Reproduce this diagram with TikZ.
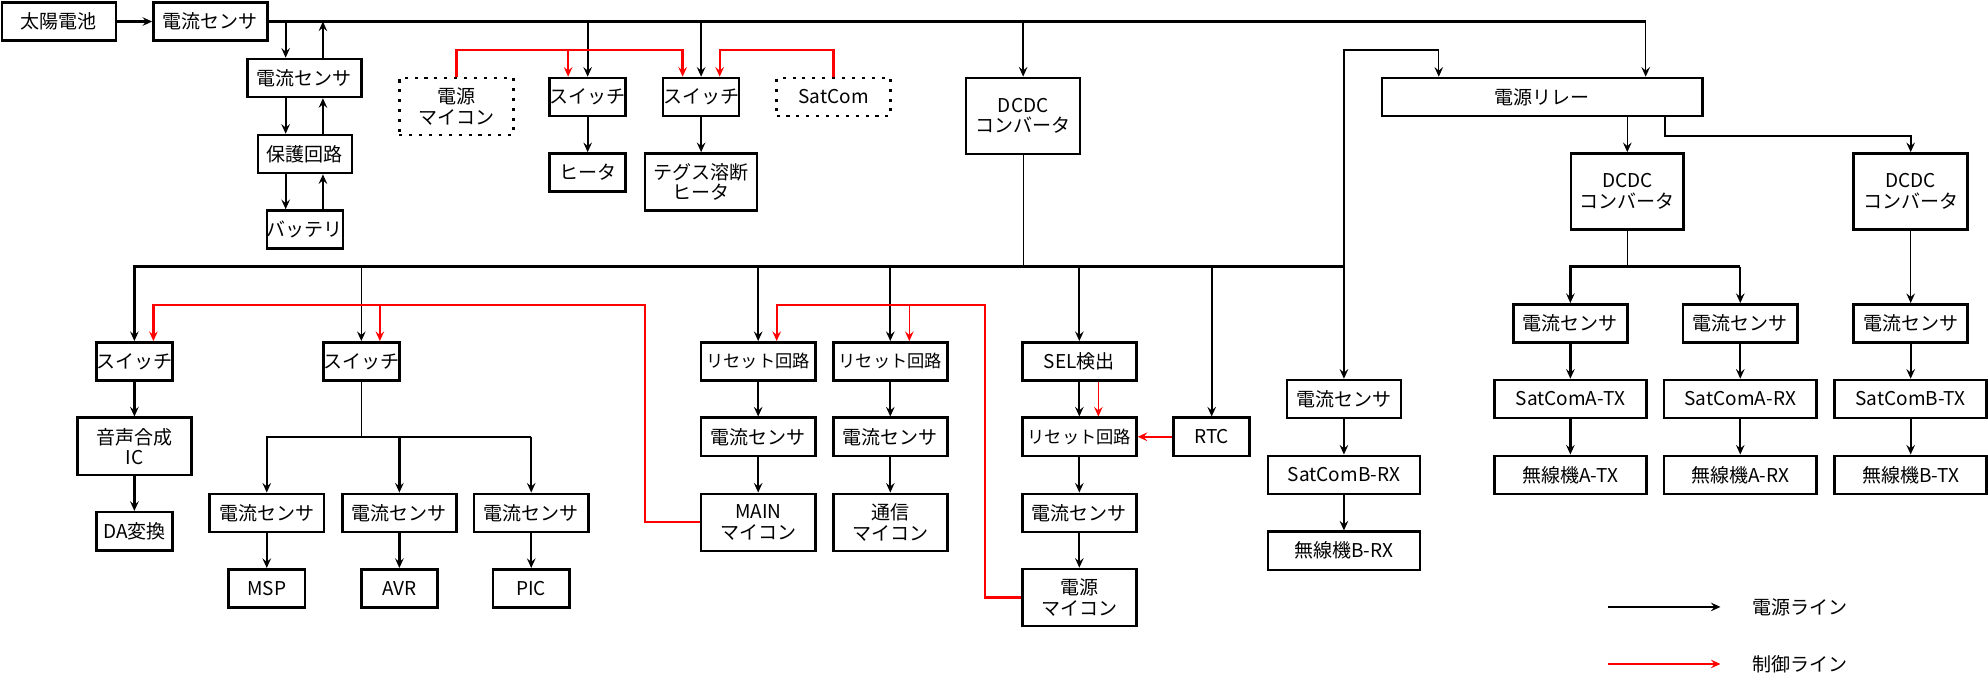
\documentclass[tikz,border=0pt]{standalone}
\usepackage{fontspec}
\setmainfont{Noto Sans CJK JP}
\usetikzlibrary{arrows.meta}

\begin{document}
\begin{tikzpicture}[x=0.5pt,y=-0.5pt,>={Stealth[length=3.8pt,width=3.4pt,inset=1.4pt]}]
    \tikzstyle{blk}=[draw,line width=1pt,inner sep=0pt,align=center,minimum width=45pt,minimum height=15pt,font=\fontsize{7.5}{8}\selectfont]
    \tikzstyle{sblk}=[blk,minimum width=30pt]
    \tikzstyle{wblk}=[blk,minimum width=60pt]
    \tikzstyle{tblk}=[blk,minimum height=22.5pt]
    \tikzstyle{dcblk}=[blk,minimum height=30pt]
    \tikzstyle{rstblk}=[blk,font=\fontsize{6.8}{8}\selectfont]
    \tikzstyle{dotbox}=[dash pattern=on 1.2pt off 2.7pt]
    \tikzstyle{pw}=[->,line width=0.9pt]
    \tikzstyle{pwthin}=[->,line width=0.45pt]
    \tikzstyle{ctl}=[->,red,line width=0.9pt]
    \tikzstyle{ctlthin}=[->,red,line width=0.45pt]

    \useasboundingbox (0,0) rectangle (1568,539);

    % upper part
    \node at (46.5,17) (sun) [blk] {太陽電池};
    \node at (166,17) (top) [blk] {電流センサ};
    \node at (240,61.5) (cs2) [blk] {電流センサ};
    \node at (240.5,121.5) (prot) [blk,minimum width=37pt] {保護回路};
    \node at (240.5,181) (batt) [sblk] {バッテリ};
    \node at (360,84) (pmc) [tblk,dotbox] {電源\\マイコン};
    \node at (463.5,76.5) (sw1) [sblk] {スイッチ};
    \node at (553,76.5) (sw2) [sblk] {スイッチ};
    \node at (657.5,76.5) (sat) [blk,dotbox] {SatCom};
    \node at (463.5,136) (heat) [sblk] {ヒータ};
    \node at (553,143.5) (tegs) [tblk,minimum width=44.2pt] {テグス溶断\\ヒータ};
    \node at (807,91.4) (dc1) [dcblk] {DCDC\\コンバータ};
    \node at (1216.4,76.5) (relay) [blk,minimum width=126.3pt] {電源リレー};
    \node at (1283.5,151) (dc2) [dcblk,minimum width=44.3pt] {DCDC\\コンバータ};
    \node at (1507,151) (dc3) [dcblk] {DCDC\\コンバータ};

    % lower left
    \node at (106,285) (sw3) [sblk] {スイッチ};
    \node at (285,285) (sw4) [sblk] {スイッチ};
    \node at (106,352) (ic) [tblk] {音声合成\\IC};
    \node at (106,419) (da) [sblk] {DA変換};
    \node at (210.4,404.5) (csm) [blk] {電流センサ};
    \node at (315,404.5) (csa) [blk] {電流センサ};
    \node at (419,404.5) (csp) [blk] {電流センサ};
    \node at (210.4,464) (msp) [sblk] {MSP};
    \node at (315,464) (avr) [sblk] {AVR};
    \node at (419,464) (pic) [sblk] {PIC};

    % lower middle
    \node at (598,285) (rst1) [rstblk] {リセット回路};
    \node at (702.2,285) (rst2) [rstblk] {リセット回路};
    \node at (598,344.5) (csmain) [blk] {電流センサ};
    \node at (702.2,344.5) (cscom) [blk] {電流センサ};
    \node at (598,412) (main) [tblk] {MAIN\\マイコン};
    \node at (702.2,412) (comm) [tblk] {通信\\マイコン};
    \node at (851.3,285) (sel) [blk] {SEL検出};
    \node at (851.3,344.5) (rst3) [rstblk] {リセット回路};
    \node at (955.7,344.5) (rtc) [sblk] {RTC};
    \node at (851.3,404.5) (cspw) [blk] {電流センサ};
    \node at (851.3,471.3) (pmc2) [tblk] {電源\\マイコン};

    % lower right
    \node at (1060,314.7) (csbr) [blk] {電流センサ};
    \node at (1060,374.5) (satbr) [wblk] {SatComB-RX};
    \node at (1060,434.4) (radbr) [wblk] {無線機B-RX};
    \node at (1238.6,255) (csat) [blk] {電流センサ};
    \node at (1372.6,255) (csar) [blk] {電流センサ};
    \node at (1507,255) (csbt) [blk] {電流センサ};
    \node at (1238.6,314.7) (satat) [wblk] {SatComA-TX};
    \node at (1372.6,314.7) (satar) [wblk] {SatComA-RX};
    \node at (1507,314.7) (satbt) [wblk] {SatComB-TX};
    \node at (1238.6,374.5) (radat) [wblk] {無線機A-TX};
    \node at (1372.6,374.5) (radar) [wblk] {無線機A-RX};
    \node at (1507,374.5) (radbt) [wblk] {無線機B-TX};

    % legend
    \node at (1382,478.7) (lgp) [anchor=west,inner sep=0pt,font=\fontsize{7.5}{8}\selectfont] {電源ライン};
    \node at (1382,523.7) (lgc) [anchor=west,inner sep=0pt,font=\fontsize{7.5}{8}\selectfont] {制御ライン};

    \coordinate (r1) at (0,39.4);
    \coordinate (m) at (0,210.3);
    \coordinate (r2) at (0,240.5);
    \coordinate (s4) at (0,344.4);
    \coordinate (b1) at (225.3,17);
    \coordinate (b2) at (254.7,17);
    \coordinate (tr) at (1298,17);
    \coordinate (rm) at (508.5,0);
    \coordinate (rp) at (776.7,0);

    % power lines, upper part
    \draw[pw] (sun) -- (top);
    \draw[line width=0.9pt] (top.east) -- (tr);
    \draw[pwthin] (tr) -- (relay.north -| tr);
    \draw[pw] (b1) -- (cs2.north -| b1);
    \draw[pw] (cs2.north -| b2) -- (b2);
    \draw[pw] (cs2.south -| b1) -- (prot.north -| b1);
    \draw[pw] (prot.north -| b2) -- (cs2.south -| b2);
    \draw[pw] (prot.south -| b1) -- (batt.north -| b1);
    \draw[pw] (batt.north -| b2) -- (prot.south -| b2);
    \draw[pw] (sw1.north |- top.east) -- (sw1);
    \draw[pw] (sw2.north |- top.east) -- (sw2);
    \draw[pw] (dc1.north |- top.east) -- (dc1);
    \draw[pw] (sw1) -- (heat);
    \draw[pw] (sw2) -- (tegs);

    % control lines, upper part
    \draw[ctl] (pmc.north) -- (pmc.north |- r1) -| ([xshift=-7.3pt]sw2.north);
    \draw[ctl] ([xshift=-7.7pt]sw1.north |- r1) -- ([xshift=-7.7pt]sw1.north);
    \draw[ctl] (sat.north) -- (sat.north |- r1) -| ([xshift=7.3pt]sw2.north);

    % middle bus
    \draw[line width=0.45pt] (dc1) -- (dc1.south |- m);
    \draw[pw] (csbr.north |- m) -- (sw3.north |- m) -- (sw3);
    \draw[line width=0.9pt] (csbr.north |- m) -- (csbr.north |- r1) -- ([xshift=-40.8pt]relay.north |- r1);
    \draw[pwthin] ([xshift=-40.8pt]relay.north |- r1) -- ([xshift=-40.8pt]relay.north);
    \draw[pw] (csbr.north |- m) -- (csbr);
    \draw[pwthin] (sw4.north |- m) -- (sw4);
    \draw[pw] (rst1.north |- m) -- (rst1);
    \draw[pw] (rst2.north |- m) -- (rst2);
    \draw[pw] (sel.north |- m) -- (sel);
    \draw[pw] (rtc.north |- m) -- (rtc);

    % lower left
    \draw[pw] (sw3) -- (ic);
    \draw[pw] (ic) -- (da);
    \draw[line width=0.45pt] (sw4) -- (sw4.south |- s4);
    \draw[pw] (csp.north |- s4) -- (csm.north |- s4) -- (csm);
    \draw[pw] (csa.north |- s4) -- (csa);
    \draw[pw] (csp.north |- s4) -- (csp);
    \draw[pw] (csm) -- (msp);
    \draw[pw] (csa) -- (avr);
    \draw[pw] (csp) -- (pic);

    % lower middle
    \draw[pw] (rst1) -- (csmain);
    \draw[pw] (csmain) -- (main);
    \draw[pw] (rst2) -- (cscom);
    \draw[pw] (cscom) -- (comm);
    \draw[pw] (sel) -- (rst3);
    \draw[pw] (rst3) -- (cspw);
    \draw[pw] (cspw) -- (pmc2);
    \draw[ctlthin] ([xshift=7.5pt]sel.south) -- ([xshift=7.5pt]rst3.north);
    \draw[ctl] (rtc) -- (rst3);

    % control lines, lower part
    \draw[ctl] (main.west) -- (main.west -| rm) -- (rm |- r2) -| ([xshift=7.5pt]sw3.north);
    \draw[ctl] ([xshift=7.3pt]sw4.north |- r2) -- ([xshift=7.3pt]sw4.north);
    \draw[ctl] (pmc2.west) -- (pmc2.west -| rp) -- (rp |- r2) -| ([xshift=7.3pt]rst1.north);
    \draw[ctlthin] ([xshift=7.5pt]rst2.north |- r2) -- ([xshift=7.5pt]rst2.north);

    % lower right
    \draw[pw] (csbr) -- (satbr);
    \draw[pw] (satbr) -- (radbr);
    \draw[pwthin] (dc2.north |- relay.south) -- (dc2);
    \draw[pw] ([xshift=48.3pt]relay.south) -- ++(0,15) -| (dc3);
    \draw[line width=0.45pt] (dc2) -- (dc2.south |- m);
    \draw[pw] (csar.north |- m) -- (csat.north |- m) -- (csat);
    \draw[pw] (csar.north |- m) -- (csar);
    \draw[pwthin] (dc3) -- (csbt);
    \draw[pw] (csat) -- (satat);
    \draw[pw] (csar) -- (satar);
    \draw[pw] (csbt) -- (satbt);
    \draw[pw] (satat) -- (radat);
    \draw[pw] (satar) -- (radar);
    \draw[pw] (satbt) -- (radbt);

    % legend
    \draw[pw] ([xshift=-56.7pt]lgp.west) -- ([xshift=-12.5pt]lgp.west);
    \draw[ctl] ([xshift=-56.7pt]lgc.west) -- ([xshift=-12.5pt]lgc.west);
\end{tikzpicture}
\end{document}
